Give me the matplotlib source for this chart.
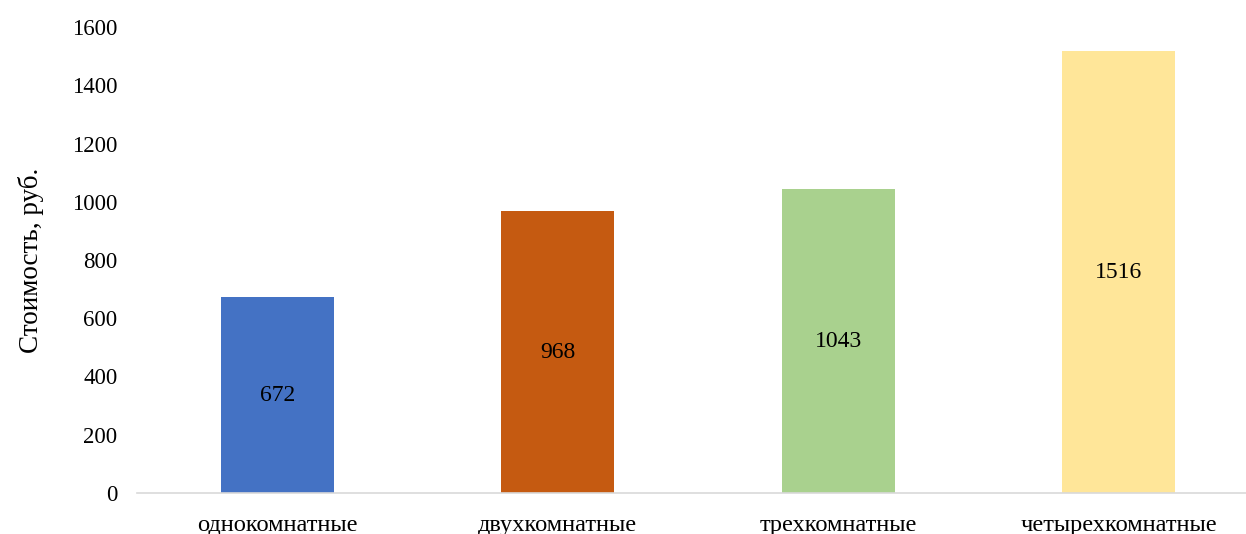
import matplotlib
matplotlib.use("Agg")
import matplotlib.pyplot as plt

plt.rcParams['font.family'] = ['Liberation Serif', 'DejaVu Serif']

categories = ['однокомнатные', 'двухкомнатные', 'трехкомнатные', 'четырехкомнатные']
values = [672, 968, 1043, 1516]
colors = ['#4472C4', '#C55A11', '#A9D18E', '#FFE699']

fig = plt.figure(figsize=(12.46, 5.34), dpi=100)
ax = fig.add_axes([137 / 1246, 41 / 534, 1122 / 1246, 466 / 534])

x = range(len(categories))
bars = ax.bar(x, values, width=0.403, color=colors)
for b, v in zip(bars, values):
    ax.text(b.get_x() + b.get_width() / 2, v / 2, str(v),
            ha='center', va='center', fontsize=17)

ax.set_xlim(-0.5, 3.5)
ax.set_ylim(0, 1600)
ax.set_yticks(range(0, 1601, 200))
ax.set_xticks(list(x))
ax.set_xticklabels(categories)
ax.tick_params(axis='y', length=0, labelsize=16.5, pad=14)
ax.tick_params(axis='x', length=0, labelsize=17.6, pad=16)
for s in ['top', 'right', 'left']:
    ax.spines[s].set_visible(False)
ax.spines['bottom'].set_color('#D9D9D9')
ax.spines['bottom'].set_linewidth(1.2)
ax.set_ylabel('Стоимость, руб.', fontsize=19.5, labelpad=20)

fig.savefig('out.png', dpi=100)
